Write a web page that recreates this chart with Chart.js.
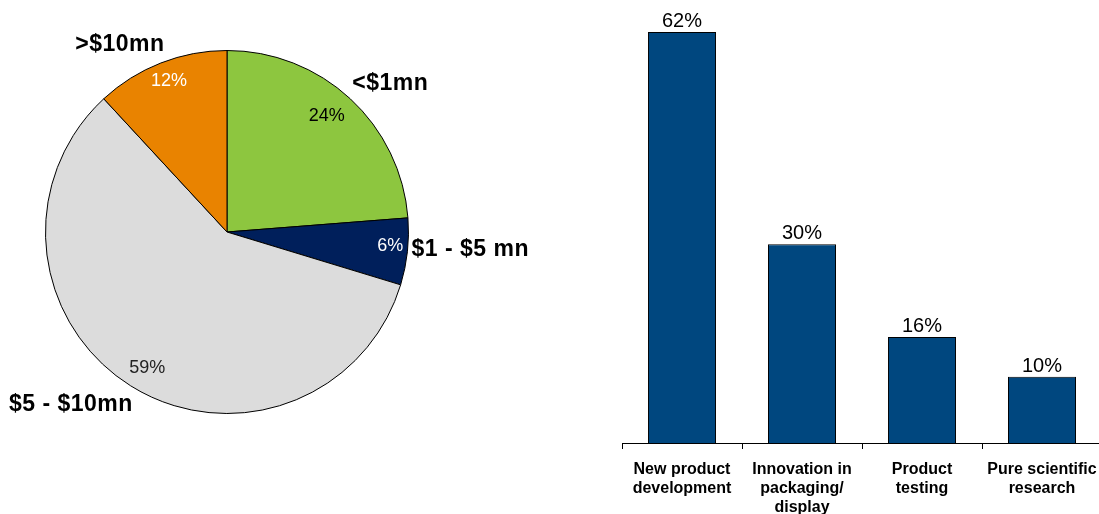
<!DOCTYPE html>
<html>
<head>
<meta charset="utf-8">
<script src="https://cdn.jsdelivr.net/npm/chart.js@4/dist/chart.umd.min.js"></script>
<style>
  html, body { margin: 0; padding: 0; background: #fff; overflow: hidden; }
  #pieWrap { position: absolute; left: 0; top: 0; width: 550px; height: 514px; }
  #barWrap { position: absolute; left: 600px; top: 0; width: 510px; height: 514px; }
</style>
</head>
<body>
<div id="pieWrap"><canvas id="pieChart"></canvas></div>
<div id="barWrap"><canvas id="barChart"></canvas></div>
<script>
// pie data
const pieLabels = ['<$1mn', '$1 - $5 mn', '$5 - $10mn', '>$10mn'];
const pieValues = [24, 6, 59, 12];
const pieColors = ['#8DC63F', '#001F5B', '#DCDCDC', '#E98300'];
const pieValueColors = ['#000', '#fff', '#222', '#fff'];

// bar data
const barLabels = [
    ['New product', 'development'],
    ['Innovation in', 'packaging/', 'display'],
    ['Product', 'testing'],
    ['Pure scientific', 'research']
];
const barValues = [62, 30, 16, 10];

const FONT = '"Liberation Sans", Arial, sans-serif';
Chart.defaults.font.family = FONT;
Chart.defaults.animation = false;

// label anchors, as fraction of radius from the pie centre
const outerPos = [[0.90, -0.82], [1.34, 0.10], [-0.86, 0.95], [-0.59, -1.03]];
const innerPos = [[0.55, -0.64], [0.90, 0.08], [-0.44, 0.75], [-0.32, -0.83]];

const pieLabelPlugin = {
    id: 'pieLabels',
    afterDatasetsDraw(chart) {
        const ctx = chart.ctx;
        const meta = chart.getDatasetMeta(0);
        ctx.save();
        ctx.textAlign = 'center';
        ctx.textBaseline = 'middle';
        meta.data.forEach((arc, i) => {
            const r = arc.outerRadius;
            ctx.letterSpacing = '0px';
            ctx.font = '18px ' + FONT;
            ctx.fillStyle = pieValueColors[i];
            ctx.fillText(pieValues[i] + '%', arc.x + innerPos[i][0] * r, arc.y + innerPos[i][1] * r);
            ctx.letterSpacing = '0.5px';
            ctx.font = 'bold 23px ' + FONT;
            ctx.fillStyle = '#000';
            ctx.fillText(pieLabels[i], arc.x + outerPos[i][0] * r, arc.y + outerPos[i][1] * r);
        });
        ctx.restore();
    }
};

new Chart(document.getElementById('pieChart'), {
    type: 'pie',
    data: {
        labels: pieLabels,
        datasets: [{
            data: pieValues,
            backgroundColor: pieColors,
            borderColor: '#000',
            borderWidth: 1
        }]
    },
    options: {
        responsive: true,
        maintainAspectRatio: false,
        layout: { padding: { left: 45, top: 50, right: 141, bottom: 100 } },
        plugins: { legend: { display: false }, tooltip: { enabled: false } }
    },
    plugins: [pieLabelPlugin]
});

const barValuePlugin = {
    id: 'barValues',
    afterDatasetsDraw(chart) {
        const ctx = chart.ctx;
        ctx.save();
        ctx.font = '20px ' + FONT;
        ctx.fillStyle = '#000';
        ctx.textAlign = 'center';
        ctx.textBaseline = 'alphabetic';
        chart.getDatasetMeta(0).data.forEach((bar, i) => {
            ctx.fillText(barValues[i] + '%', bar.x, bar.y - 5);
        });
        ctx.restore();
    }
};

new Chart(document.getElementById('barChart'), {
    type: 'bar',
    data: {
        labels: barLabels,
        datasets: [{
            data: barValues,
            backgroundColor: '#00477F',
            borderColor: '#000',
            borderWidth: 1,
            barPercentage: 0.567,
            categoryPercentage: 1
        }]
    },
    options: {
        responsive: true,
        maintainAspectRatio: false,
        layout: { padding: { left: 22, right: 8, top: 32, bottom: 0 } },
        plugins: { legend: { display: false }, tooltip: { enabled: false } },
        scales: {
            y: { display: false, min: 0, max: 62 },
            x: {
                afterFit(scale) { scale.height = 71; },
                border: { display: true, color: '#000', width: 1 },
                grid: { offset: true, drawOnChartArea: false, drawTicks: true, tickLength: 6, color: '#000' },
                ticks: {
                    color: '#000',
                    font: { size: 16, weight: 'bold', family: FONT, lineHeight: 1.18 },
                    padding: 11,
                    maxRotation: 0,
                    autoSkip: false
                }
            }
        }
    },
    plugins: [barValuePlugin]
});
</script>
</body>
</html>
